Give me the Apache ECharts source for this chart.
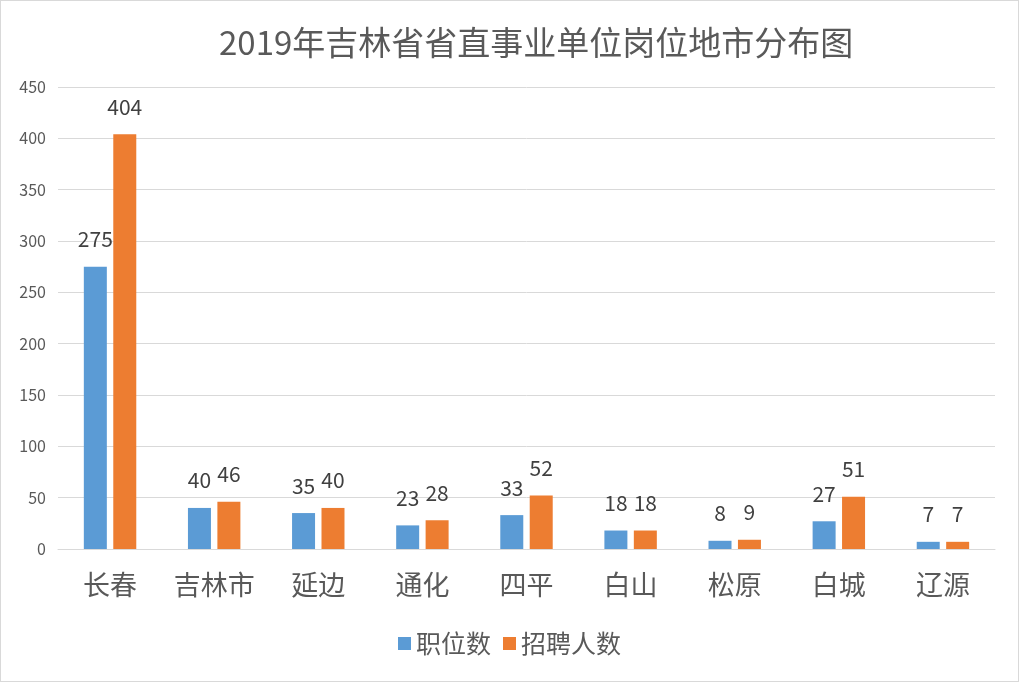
<!DOCTYPE html>
<html>
<head>
<meta charset="utf-8">
<script src="https://cdn.jsdelivr.net/npm/echarts@6/dist/echarts.min.js"></script>
<style>
html,body{margin:0;padding:0;background:#fff;}
#c{width:1019px;height:682px;box-sizing:border-box;border:1px solid #D9D9D9;}
</style>
</head>
<body>
<div id="c"></div>
<script>
const categories = ['长春','吉林市','延边','通化','四平','白山','松原','白城','辽源'];
const positions = [275,40,35,23,33,18,8,27,7];
const recruits = [404,46,40,28,52,18,9,51,7];
const seriesNames = ['职位数','招聘人数'];
const titleText = '2019年吉林省省直事业单位岗位地市分布图';

const font = '"Noto Sans CJK SC", "Noto Sans", sans-serif';
const chart = echarts.init(document.getElementById('c'));
const labelCfg = {show:true, position:'top', distance:17, fontSize:21, color:'#404040', fontFamily:font};
chart.setOption({
  animation:false,
  title:{text:titleText, left:213, top:20, textStyle:{fontSize:33, fontWeight:'normal', color:'#595959', fontFamily:font}},
  legend:{data:seriesNames, bottom:20, left:'center', itemWidth:13, itemHeight:13, itemGap:12, icon:'rect',
    textStyle:{fontSize:25, color:'#595959', fontFamily:font}},
  grid:{left:57, right:23, top:86, bottom:132, containLabel:false},
  xAxis:{type:'category', data:categories,
    axisLine:{lineStyle:{color:'#D9D9D9'}}, axisTick:{show:false},
    axisLabel:{fontSize:27, color:'#595959', margin:22, interval:0, fontFamily:font}},
  yAxis:{type:'value', min:0, max:450, interval:50,
    axisLine:{show:false}, axisTick:{show:false},
    splitLine:{lineStyle:{color:'#D9D9D9', width:1}},
    axisLabel:{fontSize:16, color:'#595959', margin:12, fontFamily:font}},
  series:[
    {name:seriesNames[0], type:'bar', data:positions, barWidth:23, barGap:'28%', itemStyle:{color:'#5B9BD5'}, label:labelCfg},
    {name:seriesNames[1], type:'bar', data:recruits, barWidth:23, itemStyle:{color:'#ED7D31'}, label:labelCfg}
  ]
});
</script>
</body>
</html>
